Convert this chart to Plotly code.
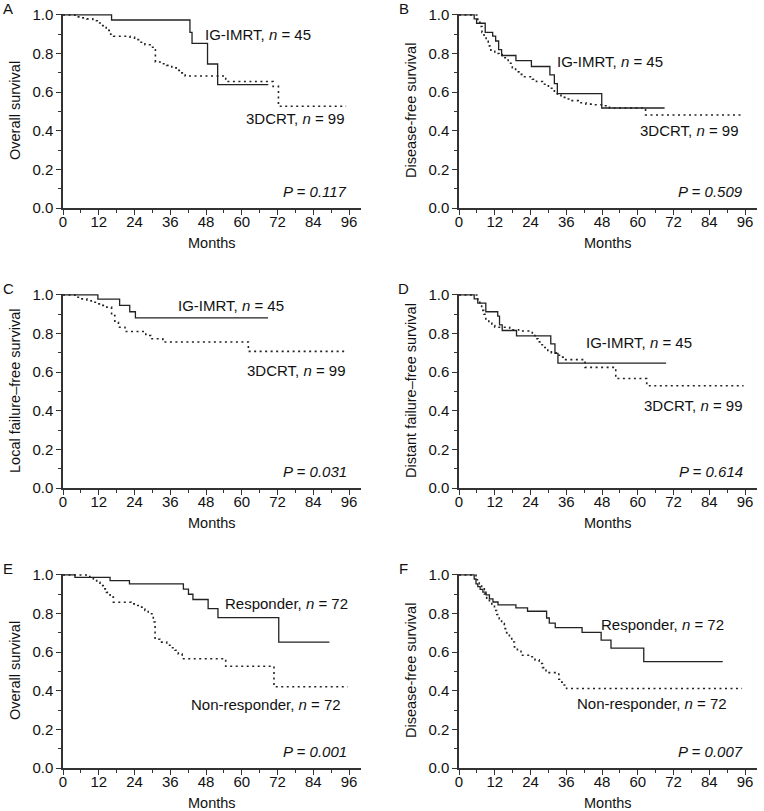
"""Kaplan-Meier style survival curves, six panels, redrawn with Plotly"""

import plotly.graph_objects as go

# ---- data (months, survival probability; step after each time) ----
A_imrt_t = [0, 16.3, 42.6, 43.3, 48.5, 51.9, 68.9]
A_imrt_s = [1.0, 0.974, 0.91, 0.853, 0.746, 0.639, 0.639]
A_3d_t = [0, 4, 6, 8, 10, 11.5, 13, 14.5, 16, 17, 22.5, 24, 25.8, 27.5, 29.2,
          30.5, 31, 33, 34.8, 36.5, 38, 39.5, 41, 54.6, 70.5, 72.3, 95]
A_3d_s = [1.0, 0.99, 0.985, 0.98, 0.97, 0.958, 0.945, 0.92, 0.9, 0.89, 0.885,
          0.872, 0.859, 0.846, 0.833, 0.82, 0.756, 0.747, 0.739, 0.726, 0.713,
          0.70, 0.684, 0.655, 0.63, 0.527, 0.527]

B_imrt_t = [0, 5.1, 5.9, 8.8, 11.3, 12.3, 13.3, 14.3, 19.1, 24.3, 30.5, 32, 33,
            47.9, 69]
B_imrt_s = [1.0, 0.98, 0.957, 0.91, 0.89, 0.865, 0.82, 0.79, 0.763, 0.733,
            0.69, 0.644, 0.593, 0.518, 0.518]
B_3d_t = [0, 6.3, 7, 7.7, 8.4, 9.1, 9.8, 10.7, 12, 13.4, 14.5, 15.4, 16.5, 17.9,
          19, 20.1, 22, 24.6, 26, 28, 30, 32, 33, 34.2, 36, 37.6, 40, 42.6, 45,
          48.2, 50.5, 62.6, 94.6]
B_3d_s = [1.0, 0.97, 0.94, 0.91, 0.885, 0.863, 0.84, 0.812, 0.8, 0.795, 0.785,
          0.778, 0.75, 0.727, 0.705, 0.692, 0.68, 0.667, 0.655, 0.641, 0.62,
          0.598, 0.585, 0.573, 0.565, 0.556, 0.545, 0.538, 0.535, 0.53, 0.518,
          0.482, 0.482]

C_imrt_t = [0, 11.7, 19, 22.4, 24.3, 68.8]
C_imrt_s = [1.0, 0.978, 0.946, 0.913, 0.881, 0.881]
C_3d_t = [0, 4, 6, 8, 9.5, 11.3, 13, 14.7, 16.3, 17.4, 18.6, 20.8, 27.8, 29.5,
          33.5, 62.2, 94.6]
C_3d_s = [1.0, 0.988, 0.98, 0.97, 0.962, 0.954, 0.946, 0.937, 0.893, 0.859,
          0.833, 0.811, 0.79, 0.773, 0.756, 0.708, 0.708]

D_imrt_t = [0, 5.1, 6.3, 9, 13, 13.6, 14.5, 19.3, 30.8, 32.2, 33.2, 69.5]
D_imrt_s = [1.0, 0.98, 0.958, 0.913, 0.89, 0.845, 0.816, 0.788, 0.747, 0.697,
            0.647, 0.647]
D_3d_t = [0, 6.3, 7, 7.6, 8.3, 9, 10, 11, 12, 17, 20, 24.6, 25.5, 26.5, 27.5,
          28.5, 29.8, 31, 32.6, 34, 35.3, 42.3, 52.6, 63, 95.5]
D_3d_s = [1.0, 0.975, 0.95, 0.92, 0.9, 0.876, 0.855, 0.842, 0.833, 0.82, 0.813,
          0.79, 0.773, 0.757, 0.742, 0.728, 0.713, 0.7, 0.688, 0.678, 0.665,
          0.625, 0.567, 0.53, 0.53]

E_resp_t = [0, 4, 15.8, 22.3, 40.4, 42.1, 43.6, 48.7, 52, 72.4, 89.4]
E_resp_s = [1.0, 0.988, 0.971, 0.954, 0.927, 0.9, 0.873, 0.826, 0.779, 0.652,
            0.652]
E_non_t = [0, 9, 10.2, 11.3, 12.4, 13.5, 14.6, 15.8, 16.9, 22.9, 24.6, 26.4,
           27.5, 28.6, 30.3, 30.9, 32.5, 34.8, 36.2, 37.6, 38.7, 40, 54.6, 70.8,
           95.5]
E_non_s = [1.0, 0.99, 0.979, 0.962, 0.945, 0.928, 0.91, 0.885, 0.859, 0.85,
           0.842, 0.833, 0.816, 0.799, 0.756, 0.667, 0.652, 0.636, 0.623, 0.61,
           0.59, 0.566, 0.527, 0.421, 0.421]

F_resp_t = [0, 5.1, 5.7, 6.3, 7.1, 8, 9.1, 10.2, 11.4, 13.1, 19.1, 23, 29.4,
            30.3, 32.3, 41.3, 47.7, 51, 62, 88.5]
F_resp_s = [1.0, 0.979, 0.954, 0.94, 0.925, 0.911, 0.897, 0.876, 0.86, 0.845,
            0.83, 0.812, 0.777, 0.751, 0.727, 0.703, 0.662, 0.621, 0.551, 0.551]
F_non_t = [0, 5.7, 6.8, 7.6, 8.5, 9.3, 10.2, 11, 11.9, 12.7, 13.5, 14.3, 15.2,
           16, 16.9, 17.7, 18.6, 19.6, 20.8, 24, 25.5, 26.9, 28, 29.2, 33.5,
           34.5, 35.3, 36.1, 95]
F_non_s = [1.0, 0.975, 0.954, 0.928, 0.902, 0.88, 0.859, 0.838, 0.816, 0.795,
           0.773, 0.748, 0.722, 0.70, 0.679, 0.653, 0.627, 0.605, 0.584, 0.576,
           0.56, 0.541, 0.52, 0.494, 0.46, 0.445, 0.43, 0.412, 0.412]

letters = ['A', 'B', 'C', 'D', 'E', 'F']
y_titles = ['Overall survival', 'Disease-free survival',
            'Local failure\u2013free survival', 'Distant failure\u2013free survival',
            'Overall survival', 'Disease-free survival']
p_values = ['0.117', '0.509', '0.031', '0.614', '0.001', '0.007']
solid_names = ['IG-IMRT', 'IG-IMRT', 'IG-IMRT', 'IG-IMRT', 'Responder', 'Responder']
dotted_names = ['3DCRT', '3DCRT', '3DCRT', '3DCRT', 'Non-responder', 'Non-responder']
solid_n = [45, 45, 45, 45, 72, 72]
dotted_n = [99, 99, 99, 99, 72, 72]

# label anchor points (data coords): solid label left-anchored, dotted right-anchored
solid_lab = [(47, 0.90), (32.3, 0.759), (38, 0.943), (41.8, 0.754), (53.6, 0.854), (46.9, 0.746)]
dotted_lab = [(95.3, 0.462), (94.7, 0.40), (95.8, 0.608), (96.1, 0.428), (94.1, 0.33), (90.5, 0.333)]

curves = [
    (A_imrt_t, A_imrt_s, A_3d_t, A_3d_s),
    (B_imrt_t, B_imrt_s, B_3d_t, B_3d_s),
    (C_imrt_t, C_imrt_s, C_3d_t, C_3d_s),
    (D_imrt_t, D_imrt_s, D_3d_t, D_3d_s),
    (E_resp_t, E_resp_s, E_non_t, E_non_s),
    (F_resp_t, F_resp_s, F_non_t, F_non_s),
]

W, H = 764, 811
FONT = 'Arial, Liberation Sans, sans-serif'
INK = '#222222'
AXIS = '#333333'
TXT = '#111111'

col_px = [(63, 361), (459, 757)]
row_px = [(14, 208), (294, 488), (574, 768)]

fig = go.Figure()
annotations = []

for i in range(6):
    r, c = divmod(i, 2)
    k = '' if i == 0 else str(i + 1)
    x0, x1 = col_px[c]
    y0, y1 = row_px[r]
    xd = [x0 / W, x1 / W]
    yd = [1 - y1 / H, 1 - y0 / H]
    st, ss, dt, ds = curves[i]

    fig.add_trace(go.Scatter(x=dt, y=ds, mode='lines', line_shape='hv',
                             line=dict(color=INK, width=1.6, dash='2px,3.5px'),
                             xaxis='x' + k, yaxis='y' + k, showlegend=False,
                             hoverinfo='skip'))
    fig.add_trace(go.Scatter(x=st, y=ss, mode='lines', line_shape='hv',
                             line=dict(color=INK, width=1.3),
                             xaxis='x' + k, yaxis='y' + k, showlegend=False,
                             hoverinfo='skip'))

    axis_common = dict(showline=True, linecolor=AXIS, linewidth=1.5,
                       showgrid=False, zeroline=False, ticks='outside',
                       ticklen=5, tickwidth=1.2, tickcolor=AXIS,
                       automargin=False,
                       tickfont=dict(family=FONT, size=15, color=TXT))
    fig.update_layout(**{
        'xaxis' + k: dict(domain=xd, range=[0, 100], anchor='y' + k,
                          tickvals=list(range(0, 97, 12)),
                          ticklabelstandoff=-6,
                          minor=dict(tickvals=list(range(6, 97, 12)),
                                     ticks='outside', ticklen=3,
                                     tickwidth=1.2, tickcolor=AXIS),
                          **axis_common),
        'yaxis' + k: dict(domain=yd, range=[0, 1.005], anchor='x' + k,
                          tickvals=[0, 0.2, 0.4, 0.6, 0.8, 1.0],
                          ticktext=['0.0', '0.2', '0.4', '0.6', '0.8', '1.0'],
                          minor=dict(tickvals=[0.1, 0.3, 0.5, 0.7, 0.9],
                                     ticks='outside', ticklen=3,
                                     tickwidth=1.2, tickcolor=AXIS),
                          **axis_common),
    })

    # curve labels
    sx, sy = solid_lab[i]
    annotations.append(dict(x=sx, y=sy, xref='x' + k, yref='y' + k,
                            text=f'{solid_names[i]}, <i>n</i> = {solid_n[i]}',
                            showarrow=False, xanchor='left', yanchor='middle',
                            font=dict(family=FONT, size=15, color=TXT)))
    dx, dy = dotted_lab[i]
    annotations.append(dict(x=dx, y=dy, xref='x' + k, yref='y' + k,
                            text=f'{dotted_names[i]}, <i>n</i> = {dotted_n[i]}',
                            showarrow=False, xanchor='right', yanchor='middle',
                            font=dict(family=FONT, size=15, color=TXT)))
    # P value
    annotations.append(dict(x=96, y=0.083, xref='x' + k, yref='y' + k,
                            text=f'<i>P = {p_values[i]}</i>',
                            showarrow=False, xanchor='right', yanchor='middle',
                            font=dict(family=FONT, size=15, color=TXT)))
    # axis titles
    annotations.append(dict(x=(x0 + x1) / 2 / W, y=1 - (y1 + 35) / H,
                            xref='paper', yref='paper', text='Months',
                            showarrow=False, xanchor='center', yanchor='middle',
                            font=dict(family=FONT, size=14.5, color=TXT)))
    annotations.append(dict(x=(x0 - 48) / W, y=1 - (y0 + y1) / 2 / H,
                            xref='paper', yref='paper', text=y_titles[i],
                            textangle=-90, showarrow=False,
                            xanchor='center', yanchor='middle',
                            font=dict(family=FONT, size=14.5, color=TXT)))
    # panel letter
    annotations.append(dict(x=(x0 - 55) / W, y=1 - (y0 - 6) / H,
                            xref='paper', yref='paper', text=letters[i],
                            showarrow=False, xanchor='center', yanchor='middle',
                            font=dict(family=FONT, size=15, color=TXT)))

fig.update_layout(width=W, height=H, margin=dict(l=0, r=0, t=0, b=0),
                  paper_bgcolor='white', plot_bgcolor='white',
                  annotations=annotations)

# the page's default 8px body margin would push the figure off the window
fig.write_html('out.html', config={'displayModeBar': False},
               post_script="document.body.style.margin='0px';"
                           "document.body.style.overflow='hidden';")
